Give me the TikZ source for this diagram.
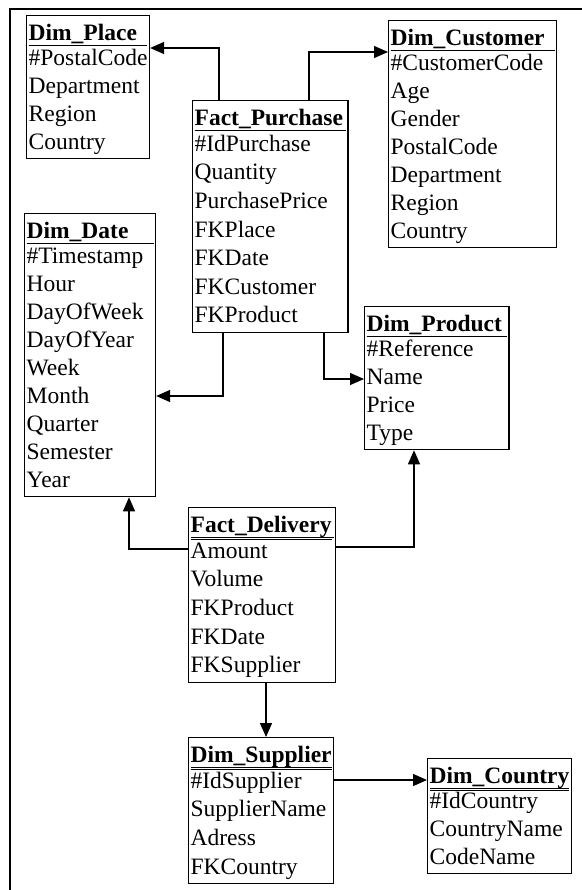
\documentclass[tikz,border=0pt]{standalone}
\usepackage{fontspec}
\setmainfont{Liberation Serif}
\usetikzlibrary{arrows.meta}

\setlength{\arrayrulewidth}{1pt}
\newcommand{\dbtable}[3][0pt]{\begin{tabular}{@{}l@{\hspace{#1}}}\raisebox{-4pt}[0pt][0pt]{\underline{\textbf{#2}}}\\\hline #3\end{tabular}}

\tikzset{
	table/.style={draw, line width=1.3pt, anchor=north west, inner xsep=2pt, inner ysep=1pt, font=\fontsize{23.5}{28}\selectfont},
	loose/.style={font=\fontsize{23.5}{28.6}\selectfont},
	fk/.style={line width=1.3pt, -{Triangle[length=14pt,width=12pt]}}
}

\begin{document}
\begin{tikzpicture}[x=1pt,y=1pt]
	\useasboundingbox (0,0) rectangle (581,-890);
	\draw [line width=1.3pt] (10,-9) rectangle (620,-930);

	% dimensions
	\node [name=place, table] at (26,-15) {\dbtable{Dim\_Place}{\#PostalCode\\Department\\Region\\Country}};
	\node [name=customer, table] at (388,-20) {\dbtable[10pt]{Dim\_Customer}{\#CustomerCode\\Age\\Gender\\PostalCode\\Department\\Region\\Country}};
	\node [name=date, table] at (24,-213) {\dbtable[10pt]{Dim\_Date}{\#Timestamp\\Hour\\DayOfWeek\\DayOfYear\\Week\\Month\\Quarter\\Semester\\Year}};
	\node [name=product, table] at (364,-306) {\dbtable[5pt]{Dim\_Product}{\#Reference\\Name\\Price\\Type}};
	\node [name=supplier, table, loose] at (188,-737) {\dbtable{Dim\_Supplier}{\#IdSupplier\\SupplierName\\Adress\\FKCountry}};
	\node [name=country, table] at (427,-758) {\dbtable{Dim\_Country}{\#IdCountry\\CountryName\\CodeName}};

	% facts
	\node [name=purchase, table, loose] at (192,-100) {\dbtable[3pt]{Fact\_Purchase}{\#IdPurchase\\Quantity\\PurchasePrice\\FKPlace\\FKDate\\FKCustomer\\FKProduct}};
	\node [name=delivery, table, loose] at (188,-507) {\dbtable[2pt]{Fact\_Delivery}{Amount\\Volume\\FKProduct\\FKDate\\FKSupplier}};


\draw [fk] ([xshift=27pt]purchase.north west) |- ([yshift=-33pt]place.north east);
\draw [fk] ([xshift=117pt]purchase.north west) |- ([yshift=-32pt]customer.north west);
\draw [fk] ([xshift=31pt]purchase.south west) |- ([yshift=-183pt]date.north east);
\draw [fk] ([xshift=132pt]purchase.south west) |- ([yshift=-73pt]product.north west);

\draw [fk] ([yshift=-42pt]delivery.north west) -| ([xshift=105pt]date.south west);
\draw [fk] ([yshift=-40pt]delivery.north east) -| ([xshift=50pt]product.south west);
\draw [fk] ([xshift=78pt]delivery.south west) -- ([xshift=78pt]supplier.north west);

\draw [fk] ([yshift=-43pt]supplier.north east) -- ([yshift=-43pt]supplier.north east -| country.west);

\end{tikzpicture}
\end{document}
